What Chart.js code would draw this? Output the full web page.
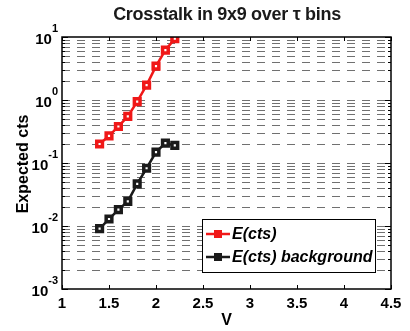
<!DOCTYPE html>
<html>
<head>
<meta charset="utf-8">
<script src="https://cdn.jsdelivr.net/npm/chart.js@4/dist/chart.umd.min.js"></script>
<style>
  html, body { margin: 0; padding: 0; background: #fff; }
  #wrap { width: 410px; height: 331px; }
</style>
</head>
<body>
<div id="wrap"><canvas id="chart" width="410" height="331"></canvas></div>
<script>
// Data
const voltages = [1.4, 1.5, 1.6, 1.7, 1.8, 1.9, 2.0, 2.1, 2.2];
const expectedCts = [0.2, 0.27, 0.38, 0.55, 0.94, 1.72, 3.45, 6.2, 9.4];
const backgroundCts = [0.0091, 0.0129, 0.0182, 0.0246, 0.0467, 0.0826, 0.149, 0.207, 0.19];
const xTicks = [1, 1.5, 2, 2.5, 3, 3.5, 4, 4.5];
const yExponents = [-3, -2, -1, 0, 1];
const seriesNames = ['E(cts)', 'E(cts) background'];
const seriesColors = ['#f01818', '#1a1a1a'];

const FONT = 'Liberation Sans, Arial, sans-serif';

function toPoints(xs, ys) {
  return xs.map((x, i) => ({ x: x, y: ys[i] }));
}

// Draws grid, frame, ticks, labels, title and legend the way MATLAB does
const matlabAxes = {
  id: 'matlabAxes',
  beforeDatasetsDraw(chart) {
    const ctx = chart.ctx;
    const a = chart.chartArea;
    const ys = chart.scales.y;
    ctx.save();
    ctx.strokeStyle = '#707070';
    ctx.lineWidth = 1.2;
    ctx.setLineDash([8, 7]);
    for (let e = yExponents[0]; e < yExponents[yExponents.length - 1]; e++) {
      for (let m = 1; m <= 9; m++) {
        const v = m * Math.pow(10, e);
        if (v <= Math.pow(10, yExponents[0])) continue;
        const py = Math.round(ys.getPixelForValue(v)) + 0.5;
        ctx.beginPath();
        ctx.moveTo(a.left, py);
        ctx.lineTo(a.right, py);
        ctx.stroke();
      }
    }
    ctx.restore();
  },
  afterDraw(chart) {
    const ctx = chart.ctx;
    const a = chart.chartArea;
    const xs = chart.scales.x;
    const ys = chart.scales.y;
    ctx.save();
    ctx.setLineDash([]);
    ctx.strokeStyle = '#000';
    ctx.fillStyle = '#000';

    // y ticks (major and minor), both sides
    ctx.lineWidth = 1;
    for (let e = yExponents[0]; e <= yExponents[yExponents.length - 1]; e++) {
      for (let m = 1; m <= 9; m++) {
        const v = m * Math.pow(10, e);
        if (v > Math.pow(10, yExponents[yExponents.length - 1])) break;
        const py = Math.round(ys.getPixelForValue(v)) + 0.5;
        const len = m === 1 ? 6 : 3;
        ctx.beginPath();
        ctx.moveTo(a.left, py); ctx.lineTo(a.left + len, py);
        ctx.moveTo(a.right, py); ctx.lineTo(a.right - len, py);
        ctx.stroke();
      }
    }
    // x ticks, top and bottom
    xTicks.forEach(t => {
      const px = Math.round(xs.getPixelForValue(t)) + 0.5;
      ctx.beginPath();
      ctx.moveTo(px, a.bottom); ctx.lineTo(px, a.bottom - 4);
      ctx.moveTo(px, a.top); ctx.lineTo(px, a.top + 4);
      ctx.stroke();
    });

    // frame
    ctx.lineWidth = 1.5;
    ctx.strokeRect(a.left, a.top, a.right - a.left, a.bottom - a.top);

    // x tick labels
    ctx.font = 'bold 15px ' + FONT;
    ctx.textAlign = 'center';
    ctx.textBaseline = 'alphabetic';
    xTicks.forEach(t => {
      ctx.fillText(String(t), xs.getPixelForValue(t), a.bottom + 19);
    });

    // y tick labels: 10 with superscript exponent
    yExponents.forEach(e => {
      const py = ys.getPixelForValue(Math.pow(10, e));
      ctx.font = 'bold 11px ' + FONT;
      const sup = String(e);
      const supW = ctx.measureText(sup).width;
      ctx.textAlign = 'left';
      ctx.textBaseline = 'alphabetic';
      const right = a.left - 4;
      ctx.fillText(sup, right - supW, py - 5);
      ctx.font = 'bold 15px ' + FONT;
      ctx.textAlign = 'right';
      ctx.fillText('10', right - supW, py + 7);
    });

    // axis titles
    ctx.font = 'bold 16px ' + FONT;
    ctx.textAlign = 'center';
    ctx.textBaseline = 'alphabetic';
    ctx.fillText('V', (a.left + a.right) / 2, 325);
    ctx.save();
    ctx.translate(28, 164);
    ctx.rotate(-Math.PI / 2);
    ctx.fillText('Expected cts', 0, 0);
    ctx.restore();

    // title
    ctx.font = 'bold 18px ' + FONT;
    ctx.letterSpacing = '-0.3px';
    ctx.fillStyle = '#1a1a1a';
    ctx.fillText('Crosstalk in 9x9 over \u03c4 bins', 227, 20);
    ctx.letterSpacing = '0px';

    // legend
    const lx = 202, ly = 219, lw = 173, lh = 53;
    ctx.fillStyle = '#fff';
    ctx.fillRect(lx, ly, lw, lh);
    ctx.lineWidth = 1;
    ctx.strokeStyle = '#000';
    ctx.strokeRect(lx + 0.5, ly + 0.5, lw, lh);
    ctx.font = 'italic bold 16px ' + FONT;
    ctx.textAlign = 'left';
    ctx.textBaseline = 'middle';
    seriesNames.forEach((name, i) => {
      const cy = ly + 15 + i * 23;
      ctx.strokeStyle = seriesColors[i];
      ctx.fillStyle = seriesColors[i];
      ctx.lineWidth = 2.5;
      ctx.beginPath();
      ctx.moveTo(lx + 4, cy); ctx.lineTo(lx + 28, cy);
      ctx.stroke();
      ctx.fillRect(lx + 12, cy - 4, 8, 8);
      ctx.fillStyle = '#000';
      ctx.fillText(name, lx + 30, cy + 1);
    });
    ctx.restore();
  }
};

new Chart(document.getElementById('chart'), {
  type: 'scatter',
  data: {
    datasets: [
      {
        label: seriesNames[0],
        data: toPoints(voltages, expectedCts),
        showLine: true,
        borderColor: seriesColors[0],
        backgroundColor: '#fff',
        borderWidth: 2.5,
        pointStyle: 'rect',
        pointRadius: 4,
        pointBorderWidth: 3.5
      },
      {
        label: seriesNames[1],
        data: toPoints(voltages, backgroundCts),
        showLine: true,
        borderColor: seriesColors[1],
        backgroundColor: '#fff',
        borderWidth: 2.5,
        pointStyle: 'rect',
        pointRadius: 4,
        pointBorderWidth: 3.5
      }
    ]
  },
  options: {
    responsive: false,
    animation: false,
    layout: { padding: { left: 62, right: 19, top: 37, bottom: 42 } },
    plugins: {
      legend: { display: false },
      tooltip: { enabled: false },
      title: { display: false }
    },
    scales: {
      x: { type: 'linear', min: 1, max: 4.5, display: false },
      y: { type: 'logarithmic', min: 0.001, max: 10, display: false }
    }
  },
  plugins: [matlabAxes]
});
</script>
</body>
</html>
